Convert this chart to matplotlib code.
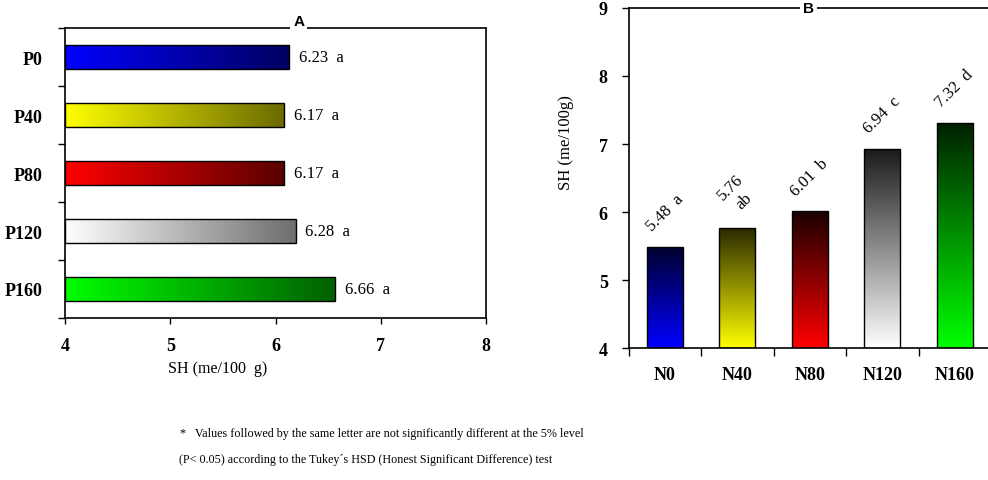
import matplotlib.pyplot as plt
import numpy as np
from matplotlib.colors import LinearSegmentedColormap

# panel A (P rates), bar ends as drawn in the picture + the printed labels
p_labels = ['P0', 'P40', 'P80', 'P120', 'P160']
p_values = [6.13, 6.08, 6.08, 6.19, 6.57]
p_text = ['6.23  a', '6.17  a', '6.17  a', '6.28  a', '6.66  a']

# panel B (N rates)
n_labels = ['N0', 'N40', 'N80', 'N120', 'N160']
n_values = [5.48, 5.76, 6.01, 6.93, 7.31]
n_text = ['5.48  a', '5.76\nab', '6.01  b', '6.94  c', '7.32  d']

light = ['#0000ff', '#ffff00', '#ff0000', '#ffffff', '#00ff00']
dark_p = ['#000060', '#6b6b00', '#5a0000', '#6e6e6e', '#006000']
dark_n = ['#000030', '#2a2a00', '#1a0000', '#1a1a1a', '#002000']

plt.rcParams['font.family'] = 'Liberation Serif'


def fill_gradient(ax, patch, c0, c1, horizontal):
    cmap = LinearSegmentedColormap.from_list('g', [c0, c1])
    grad = np.linspace(0, 1, 256)
    img = grad.reshape(1, -1) if horizontal else grad.reshape(-1, 1)
    bb = patch.get_bbox()
    im = ax.imshow(img, cmap=cmap, extent=[bb.x0, bb.x1, bb.y0, bb.y1],
                   aspect='auto', origin='lower', interpolation='bilinear', zorder=1)
    im.set_clip_path(patch)


fig = plt.figure(figsize=(9.88, 4.81), dpi=100)

# ---- panel A ----
ax1 = fig.add_axes([0.0658, 0.3368, 0.4261, 0.6029])
ypos = np.arange(len(p_labels))
bars = ax1.barh(ypos, np.array(p_values) - 4, left=4, height=0.41,
                facecolor='none', edgecolor='black', linewidth=1, zorder=3)
for b, c0, c1 in zip(bars, light, dark_p):
    fill_gradient(ax1, b, c0, c1, True)
for y, v, t in zip(ypos, p_values, p_text):
    ax1.annotate(t, (v, y), xytext=(7, 0), textcoords='offset points',
                 va='center', ha='left', fontsize=12)
ax1.set_xlim(4, 8)
ax1.set_ylim(4.5, -0.5)
ax1.set_xticks([4, 5, 6, 7, 8])
ax1.set_yticks(np.arange(-0.5, 5, 1))
ax1.set_yticklabels([])
ax1.set_yticks(ypos, minor=True)
ax1.set_yticklabels(p_labels, minor=True, fontweight='bold', fontsize=13)
ax1.tick_params(axis='y', which='minor', length=0, pad=16)
ax1.tick_params(axis='y', which='major', length=5, width=1)
ax1.tick_params(axis='x', length=4, width=1, pad=10, labelsize=13)
for lab in ax1.get_xticklabels():
    lab.set_fontweight('bold')
for s in ax1.spines.values():
    s.set_linewidth(1.2)
ax1.set_xlabel('SH (me/100  g)', fontsize=11.5, x=0.363, labelpad=4)
ax1.text(0.555, 1.0, 'A', transform=ax1.transAxes, ha='center', va='bottom',
         fontsize=11, fontweight='bold', family='Liberation Sans',
         bbox=dict(facecolor='white', edgecolor='none', pad=2), zorder=5, clip_on=False)

# ---- panel B ----
ax2 = fig.add_axes([0.6363, 0.2744, 0.3667, 0.7069])
xpos = np.arange(len(n_labels))
bars = ax2.bar(xpos, np.array(n_values) - 4, bottom=4, width=0.5,
               facecolor='none', edgecolor='black', linewidth=1, zorder=3)
for b, c0, c1 in zip(bars, light, dark_n):
    fill_gradient(ax2, b, c0, c1, False)
for x, v, t in zip(xpos, n_values, n_text):
    ax2.annotate(t, (x, v), xytext=(0, 25), textcoords='offset points',
                 rotation=45, rotation_mode='anchor', ha='center', va='center',
                 fontsize=12, multialignment='center')
ax2.set_xlim(-0.5, 4.5)
ax2.set_ylim(4, 9)
ax2.set_yticks([4, 5, 6, 7, 8, 9])
ax2.set_xticks(np.arange(-0.5, 5, 1))
ax2.set_xticklabels([])
ax2.set_xticks(xpos, minor=True)
ax2.set_xticklabels(n_labels, minor=True, fontweight='bold', fontsize=13)
ax2.tick_params(axis='x', which='minor', length=0, pad=13)
ax2.tick_params(axis='x', which='major', length=6, width=1)
ax2.tick_params(axis='y', length=5, width=1, pad=10, labelsize=13)
for lab in ax2.get_yticklabels():
    lab.set_fontweight('bold')
ax2.spines['right'].set_visible(False)
for s in ax2.spines.values():
    s.set_linewidth(1.2)
ax2.set_ylabel('SH (me/100g)', fontsize=12, labelpad=18, y=0.606)
ax2.text(0.497, 1.0, 'B', transform=ax2.transAxes, ha='center', va='center',
         fontsize=11, fontweight='bold', family='Liberation Sans',
         bbox=dict(facecolor='white', edgecolor='none', pad=2), zorder=5, clip_on=False)

# footnote
fig.text(180 / 988, 1 - 434 / 481, '*   Values followed by the same letter are not significantly different at the 5% level',
         ha='left', va='center', fontsize=8.7)
fig.text(179 / 988, 1 - 460 / 481, '(P< 0.05) according to the Tukey\u00b4s HSD (Honest Significant Difference) test',
         ha='left', va='center', fontsize=8.7)

fig.savefig('out.png', dpi=100)
